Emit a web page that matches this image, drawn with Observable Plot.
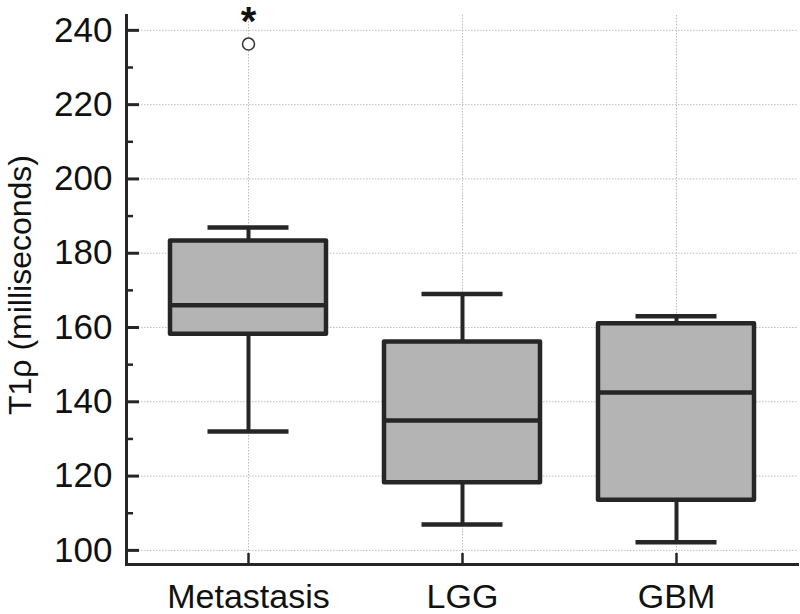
<!DOCTYPE html>
<html><head><meta charset="utf-8">
<script src="https://cdn.jsdelivr.net/npm/d3@7"></script>
<script src="https://cdn.jsdelivr.net/npm/@observablehq/plot@0.6"></script>
<style>body{margin:0;background:#fff}</style>
</head><body><div id="chart"></div>
<script>
const categories = ["Metastasis", "LGG", "GBM"];
const whiskerLow = [132, 107, 102.2];
const q1 = [158.2, 118.2, 113.5];
const median = [166, 135, 142.5];
const q3 = [183.3, 156.1, 161];
const whiskerHigh = [186.9, 169, 163];
const outlierCategory = ["Metastasis"];
const outlierValue = [236.3];
const significance = ["*"];
const yMajorTicks = [100, 120, 140, 160, 180, 200, 220, 240];
const yMinorTicks = [110, 130, 150, 170, 190, 210, 230];
const yLabel = "T1ρ (milliseconds)";

const boxes = categories.map((c, i) => ({cat: c, lo: whiskerLow[i], q1: q1[i], med: median[i], q3: q3[i], hi: whiskerHigh[i]}));
const outliers = outlierCategory.map((c, i) => ({cat: c, value: outlierValue[i], mark: significance[i]}));

const ink = "#262626";
const grid = "#bdbdbd";

const chart = Plot.plot({
  width: 800, height: 614,
  marginLeft: 126, marginRight: 3, marginTop: 15, marginBottom: 50,
  style: {fontFamily: "'Liberation Sans', Arial, sans-serif", background: "#fff", color: "#1a1a1a"},
  x: {type: "band", domain: categories, paddingInner: 0.273, paddingOuter: 0.2, align: 0.5},
  y: {domain: [96.2, 244]},
  marks: [
    Plot.ruleY(yMajorTicks, {stroke: grid, strokeWidth: 1, strokeDasharray: "1.5,1.5"}),
    Plot.ruleX(categories, {x: d => d, stroke: grid, strokeWidth: 1, strokeDasharray: "1.5,1.5"}),
    Plot.ruleX(boxes, {x: "cat", y1: "lo", y2: "q1", stroke: ink, strokeWidth: 4}),
    Plot.ruleX(boxes, {x: "cat", y1: "q3", y2: "hi", stroke: ink, strokeWidth: 4}),
    Plot.tickY(boxes, {x: "cat", y: "lo", insetLeft: 37.5, insetRight: 37.5, stroke: ink, strokeWidth: 4.5}),
    Plot.tickY(boxes, {x: "cat", y: "hi", insetLeft: 37.5, insetRight: 37.5, stroke: ink, strokeWidth: 4.5}),
    Plot.barY(boxes, {x: "cat", y1: "q1", y2: "q3", fill: "#b4b4b4", stroke: ink, strokeWidth: 4.5, strokeLinejoin: "round"}),
    Plot.tickY(boxes, {x: "cat", y: "med", stroke: ink, strokeWidth: 4.5}),
    Plot.dot(outliers, {x: "cat", y: "value", r: 6, stroke: "#333", fill: "white", strokeWidth: 1.5}),
    Plot.text(outliers, {x: "cat", y: "value", text: "mark", dy: -22, fontSize: 40, fontWeight: "bold", fill: "#111"}),
    Plot.axisY(yMajorTicks, {tickSize: -13, fill: "none", stroke: ink, strokeWidth: 3, label: null}),
    Plot.axisY(yMinorTicks, {tickSize: -7, fill: "none", stroke: ink, strokeWidth: 2.5, label: null}),
    Plot.axisY(yMajorTicks, {tickSize: 0, tickPadding: 14, fontSize: 35, fill: "#111", label: null}),
    Plot.axisX({tickSize: -11, fill: "none", stroke: ink, strokeWidth: 2.5, label: null}),
    Plot.axisX({tickSize: 0, tickPadding: 19, fontSize: 34, fill: "#111", label: null}),
    Plot.frame({anchor: "left", stroke: ink, strokeWidth: 3}),
    Plot.frame({anchor: "bottom", stroke: ink, strokeWidth: 3}),
    Plot.text([yLabel], {frameAnchor: "left", rotate: -90, dx: -106, dy: -5, fontSize: 32, fill: "#111", textAnchor: "middle"})
  ]
});
document.getElementById("chart").appendChild(chart);
</script>
</body></html>
